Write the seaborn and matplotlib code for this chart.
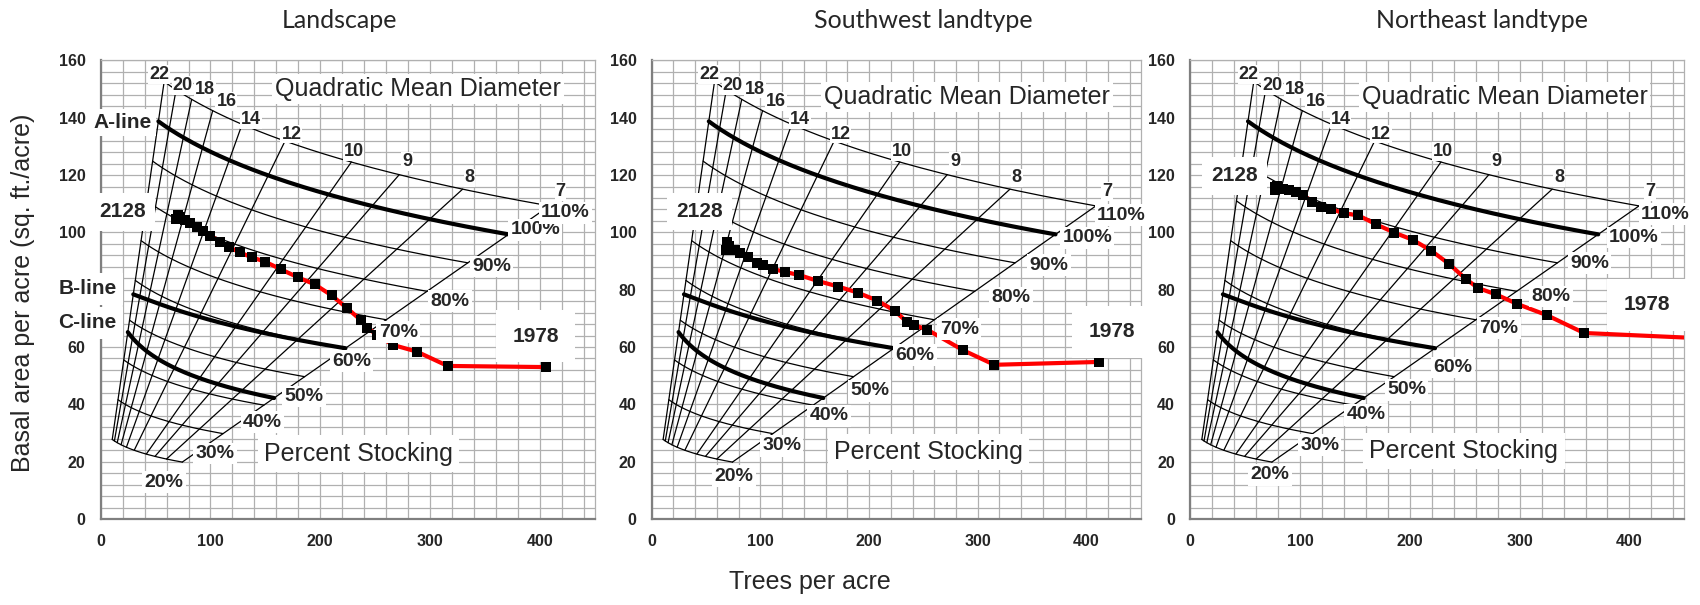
import numpy as np
import pandas as pd
import matplotlib
matplotlib.use("Agg")
import matplotlib.pyplot as plt
import seaborn as sns
from matplotlib.ticker import MultipleLocator, FuncFormatter

# ---------------- data ----------------
panel_titles = ["Landscape", "Southwest landtype", "Northeast landtype"]

land_tpa = [68.5, 70.5, 72.2, 76.8, 81.3, 87.4, 93.5, 99.5, 108.7, 117.1, 126.9, 137.5,
            149.6, 164.2, 179.7, 194.8, 210.4, 224.3, 237.2, 243.0, 251.4, 266.5, 288.0,
            316.0, 406.0]
land_ba = [104.5, 106.0, 105.5, 104.3, 103.2, 102.0, 100.5, 98.9, 96.8, 94.8, 93.0, 91.3,
           89.8, 87.1, 84.3, 81.9, 78.0, 73.6, 69.3, 66.8, 64.2, 60.7, 58.4,
           53.4, 53.0]

sw_tpa = [68.4, 69.0, 71.5, 76.6, 81.2, 88.9, 96.6, 102.7, 111.9, 122.6, 135.8, 153.3,
          171.7, 189.5, 207.6, 223.8, 234.6, 241.3, 253.8, 286.5, 315.3, 412.0]
sw_ba = [94.0, 96.5, 95.2, 93.9, 92.9, 91.5, 89.2, 88.6, 87.2, 86.2, 85.1, 83.0,
         81.1, 79.0, 76.2, 72.6, 68.8, 67.7, 66.0, 58.9, 53.8, 54.8]

ne_tpa = [76.8, 77.4, 79.0, 84.2, 90.2, 96.0, 102.7, 111.1, 118.9, 128.6, 139.7, 153.2,
          169.4, 185.9, 202.7, 219.5, 235.7, 250.8, 262.0, 278.2, 298.0, 324.9, 358.6,
          480.0]
ne_ba = [115.9, 114.8, 116.3, 115.1, 114.8, 114.2, 113.0, 110.7, 109.0, 108.1, 106.7, 105.9,
         102.8, 99.9, 97.4, 93.6, 89.0, 83.8, 80.6, 78.4, 75.0, 71.1, 64.9,
         62.8]

start_year, end_year = "2128", "1978"

# stocking guide (Gingrich upland hardwood equation)
stocking_levels = [20, 30, 40, 50, 60, 70, 80, 90, 110]
stocking_labels = ["20%", "30%", "40%", "50%", "60%", "70%", "80%", "90%", "100%", "110%"]
qmd_values = [22, 20, 18, 16, 14, 12, 10, 9, 8, 7]
gingrich_coef = (-0.00507, 0.01698, 0.00317)
ba_per_sq_inch = 0.005454
a_line_pct = (100.0, 100.0)   # stocking % at QMD 22 and at QMD 7
b_line_pct = (56.5, 60.0)
c_line_pct = (47.0, 42.5)
qmd_range = (22.0, 7.0)

# ---------------- layout of annotations (data coordinates) ----------------
pct_label_pos = [
    [(57.6, 12.9), (104, 22.8), (147.4, 33.8), (185, 42.7), (228.5, 55.1), (271, 65.2),
     (318, 76), (356, 88.1), (395.8, 100.9), (423.5, 106.8)],
    [(75.6, 15.0), (119.5, 25.5), (163.4, 36.0), (200.4, 44.7), (242.5, 57.2), (283, 66.2),
     (330.4, 77.3), (365.6, 88.6), (400.7, 98.1), (432.3, 106.0)],
    [(72.4, 15.4), (117.8, 25.8), (159.9, 36.3), (197, 45.1), (239.1, 52.9), (281.1, 66.6),
     (328.3, 77.6), (363.6, 89.3), (404, 98.2), (432.7, 106.3)],
]
qmd_label_pos = [(53.0, 155.0), (74.5, 151.2), (95.0, 150.0), (114.5, 145.7), (136.8, 139.5),
                 (173.7, 134.3), (230.3, 128.3), (279.0, 124.6), (336.0, 119.0), (418.8, 114.2)]
qmd_title_pos = [(288.9, 150.1), (290.0, 147.2), (286.2, 147.2)]
pct_title_pos = [(235.0, 22.8), (254.8, 23.4), (249.2, 23.7)]
start_pos = [(19.7, 107.2), (43.8, 107.3), (40.4, 119.7)]
end_pos = [(396.0, 63.8), (423.6, 65.3), (415.8, 74.7)]

axes_rect = [
    [100.7 / 1700, 86 / 605, 494 / 1700, 458.6 / 605],
    [651.7 / 1700, 86 / 605, 489 / 1700, 458.6 / 605],
    [1190.3 / 1700, 86 / 605, 494 / 1700, 458.6 / 605],
]
title_x = [339, 923, 1482]

sns.set_style("white")
plt.rcParams["font.family"] = ["Liberation Sans", "DejaVu Sans"]

a0, a1, a2 = gingrich_coef


def trees_for(pct, d):
    return pct / (a0 + a1 * d + a2 * d ** 2)


def stock_curve(p_start, p_end, n=150):
    d = np.linspace(qmd_range[0], qmd_range[1], n)
    p = np.linspace(p_start, p_end, n)
    tpa = trees_for(p, d)
    return tpa, ba_per_sq_inch * d ** 2 * tpa


fig = plt.figure(figsize=(17, 6.05), dpi=100)
trajectories = [(land_tpa, land_ba), (sw_tpa, sw_ba), (ne_tpa, ne_ba)]

white = dict(facecolor="white", edgecolor="none")

for i, (tpa, ba) in enumerate(trajectories):
    ax = fig.add_axes(axes_rect[i])
    ax.set_xlim(0, 450)
    ax.set_ylim(0, 160)
    ax.xaxis.set_major_locator(MultipleLocator(100))
    ax.xaxis.set_minor_locator(MultipleLocator(20))
    ax.yaxis.set_major_locator(MultipleLocator(20))
    ax.yaxis.set_minor_locator(MultipleLocator(4))
    ax.grid(which="both", color="#b0b0b0", lw=0.9)
    ax.set_axisbelow(True)
    ax.tick_params(which="major", length=4, width=1, color="#808080", direction="out",
                   labelsize=11.5, pad=7)
    ax.tick_params(which="minor", length=0)
    for s in ["left", "bottom"]:
        ax.spines[s].set_color("#7f7f7f")
        ax.spines[s].set_linewidth(1.6)
    for s in ["top", "right"]:
        ax.spines[s].set_color("#b0b0b0")
        ax.spines[s].set_linewidth(0.9)

    # stocking curves
    for p in stocking_levels:
        x, y = stock_curve(p, p)
        sns.lineplot(x=x, y=y, sort=False, estimator=None, color="black", lw=0.9, ax=ax)
    for pr in (a_line_pct, b_line_pct, c_line_pct):
        x, y = stock_curve(*pr)
        sns.lineplot(x=x, y=y, sort=False, estimator=None, color="black", lw=3.0, ax=ax)
    # QMD lines
    for d in qmd_values:
        tp = trees_for(np.array([stocking_levels[0], stocking_levels[-1]], float), d)
        sns.lineplot(x=tp, y=ba_per_sq_inch * d ** 2 * tp, sort=False, estimator=None,
                     color="black", lw=0.9, ax=ax)

    # trajectory
    df = pd.DataFrame({"tpa": tpa, "ba": ba})
    sns.lineplot(data=df, x="tpa", y="ba", sort=False, estimator=None, color="#ff0000",
                 lw=3.0, ax=ax, zorder=4)
    sns.scatterplot(data=df, x="tpa", y="ba", marker="s", color="black", s=42,
                    edgecolor="black", linewidth=0, ax=ax, zorder=5)

    ax.set_xlabel("")
    ax.set_ylabel("")
    if i == 0:
        # the "80" label of the first panel is hidden behind the B-line label
        ax.yaxis.set_major_formatter(FuncFormatter(lambda v, _: "" if v == 80 else f"{v:.0f}"))
    for lbl in ax.get_xticklabels() + ax.get_yticklabels():
        lbl.set_fontweight("bold")

    # labels
    for (x, y), s in zip(pct_label_pos[i], stocking_labels):
        ax.text(x, y, s, ha="center", va="center", fontsize=14, fontweight="bold",
                bbox=dict(boxstyle="square,pad=0.12", **white), zorder=10)
    for (x, y), d in zip(qmd_label_pos, qmd_values):
        ax.text(x, y, str(d), ha="center", va="center", fontsize=13, fontweight="bold",
                bbox=dict(boxstyle="square,pad=0.05", **white), zorder=10)
    ax.text(*qmd_title_pos[i], "Quadratic Mean Diameter", ha="center", va="center",
            fontsize=18, bbox=dict(boxstyle="square,pad=0.12", **white), zorder=10)
    ax.text(*pct_title_pos[i], "Percent Stocking", ha="center", va="center",
            fontsize=18, bbox=dict(boxstyle="square,pad=0.25", **white), zorder=10)
    ax.text(*start_pos[i], start_year, ha="center", va="center", fontsize=15,
            fontweight="bold", bbox=dict(boxstyle="square,pad=0.45", **white), zorder=10)
    ax.text(*end_pos[i], end_year, ha="center", va="center", fontsize=15,
            fontweight="bold", bbox=dict(boxstyle="square,pad=0.8", **white), zorder=10)
    if i == 0:
        ax.text(19.7, 138.4, "A-line", ha="center", va="center", fontsize=15,
                fontweight="bold", bbox=dict(boxstyle="square,pad=0.2", **white),
                zorder=10, clip_on=False)
        ax.text(-12.0, 80.3, "B-line", ha="center", va="center", fontsize=15,
                fontweight="bold", bbox=dict(boxstyle="square,pad=0.3", **white),
                zorder=10, clip_on=False)
        ax.text(-12.0, 68.4, "C-line", ha="center", va="center", fontsize=15,
                fontweight="bold", bbox=dict(boxstyle="square,pad=0.3", **white),
                zorder=10, clip_on=False)

    fig.text(title_x[i] / 1700, 1 - 28.5 / 605, panel_titles[i], ha="center",
             va="baseline", fontsize=18, family=["Lato", "DejaVu Sans"])

fig.text(23 / 1700, 1 - 293 / 605, "Basal area per acre (sq. ft./acre)", rotation=90,
         ha="center", va="center", fontsize=18)
fig.text(809.5 / 1700, 1 - 581.7 / 605, "Trees per acre", ha="center", va="center",
         fontsize=18)

fig.savefig("out.png", dpi=100)
